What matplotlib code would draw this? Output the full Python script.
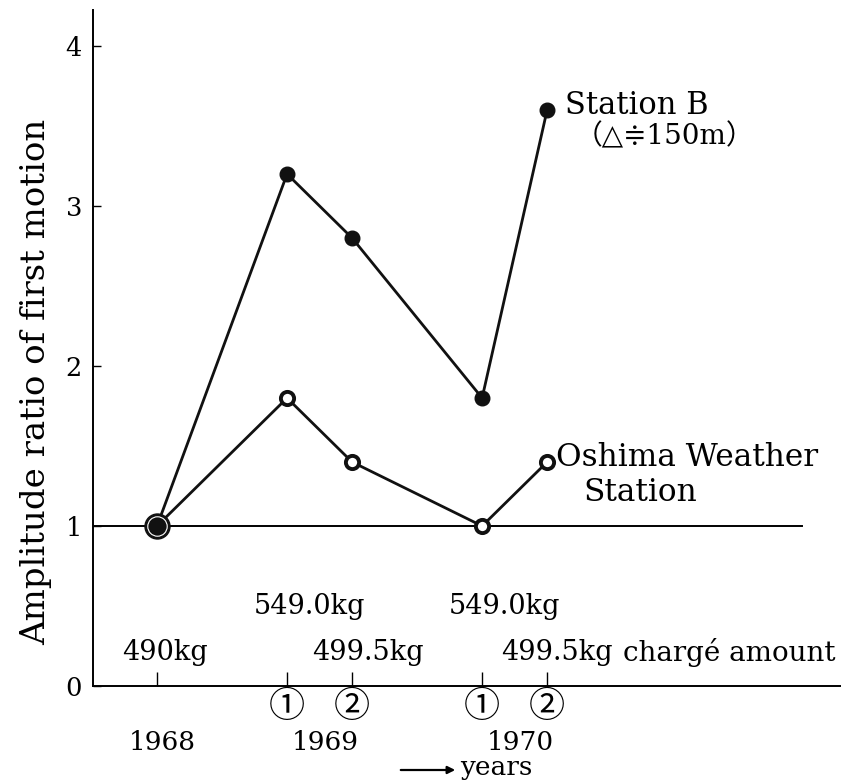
import matplotlib
matplotlib.use('Agg')
import matplotlib.pyplot as plt

plt.rcParams['font.family'] = ['DejaVu Serif', 'Noto Sans CJK JP']

# shot order: 1968, 1969 (1), 1969 (2), 1970 (1), 1970 (2)
shot_pos = [0, 2, 3, 5, 6]
shot_marks = ['', '①', '②', '①', '②']
charges = ['490kg', '549.0kg', '499.5kg', '549.0kg', '499.5kg']
years = ['1968', '1969', '1970']
year_pos = [0, 2.5, 5.5]

station_b = [1.0, 3.2, 2.8, 1.8, 3.6]
oshima = [1.0, 1.8, 1.4, 1.0, 1.4]
baseline_ratio = 1.0

fig = plt.figure(figsize=(8.41, 7.82), dpi=100)
W, H = 841, 782
ax = fig.add_axes([93 / W, 96 / H, (W - 93) / W, 676 / H])

ax.set_xlim(-0.985, 10.52)
ax.set_ylim(0, 4.225)

# reference line at ratio 1
ax.plot([-0.985, 9.92], [baseline_ratio, baseline_ratio], color='black', lw=1.4, zorder=1)

ax.plot(shot_pos, station_b, color='#111111', lw=2.0, zorder=2)
ax.plot(shot_pos[1:], station_b[1:], 'o', color='#111111', ms=10.5, zorder=3)
ax.plot(shot_pos, oshima, color='#111111', lw=2.0, zorder=2)
ax.plot(shot_pos[1:], oshima[1:], 'o', mfc='white', mec='#111111', mew=2.8, ms=9.5, zorder=4)

# 1968 shot is the common reference for both stations
ax.plot(shot_pos[0], station_b[0], 'o', color='#111111', ms=18, zorder=5)
ax.plot(shot_pos[0], station_b[0], 'o', mfc='none', mec='white', mew=0.8, ms=14, zorder=6)

for s in ['top', 'right']:
    ax.spines[s].set_visible(False)
ax.spines['left'].set_linewidth(1.4)
ax.spines['bottom'].set_linewidth(1.4)

ax.set_yticks([0, 1, 2, 3, 4])
ax.set_yticklabels(['0', '1', '2', '3', '4'], fontsize=18.5)
ax.tick_params(axis='y', direction='in', length=6, width=1, pad=8)
ax.set_xticks(shot_pos)
ax.set_xticklabels([])
ax.tick_params(axis='x', direction='in', length=10, width=1)

ax.set_ylabel('Amplitude ratio of first motion', fontsize=24.5)
ax.yaxis.set_label_coords(-0.054, 0.45)

tr = ax.get_xaxis_transform()
charge_shift = [0.12, 0.35, 0.25, 0.34, 0.15]
charge_row = [0.05, 0.118, 0.05, 0.118, 0.05]
for x, dx, y, lab in zip(shot_pos, charge_shift, charge_row, charges):
    ax.text(x + dx, y, lab, transform=tr, ha='center', va='center', fontsize=19.5)
ax.text(7.17, 0.05, 'chargé amount', transform=tr, ha='left', va='center', fontsize=20)

for x, m in zip(shot_pos, shot_marks):
    if m:
        ax.text(x, -0.031, m, transform=tr, ha='center', va='center', fontsize=26,
                family=['Noto Sans CJK JP'])

for x, lab in zip(year_pos, years):
    ax.text(x + 0.08, -0.083, lab, transform=tr, ha='center', va='center', fontsize=19)

fig.text(460 / W, 1 - 767 / H, 'years', ha='left', va='center', fontsize=19)
ax.annotate('', xy=(458 / W, 1 - 770 / H), xytext=(398 / W, 1 - 770 / H),
            xycoords='figure fraction', textcoords='figure fraction',
            arrowprops=dict(arrowstyle='-|>', color='black', lw=1.6, mutation_scale=11))

ax.text(6.28, 3.63, 'Station B', ha='left', va='center', fontsize=22)
ax.text(6.42, 3.43, '（△≑150m）', ha='left', va='center', fontsize=20)
ax.text(6.14, 1.43, 'Oshima Weather', ha='left', va='center', fontsize=22.5)
ax.text(6.55, 1.21, 'Station', ha='left', va='center', fontsize=22.5)

fig.savefig('out.png', dpi=100)
